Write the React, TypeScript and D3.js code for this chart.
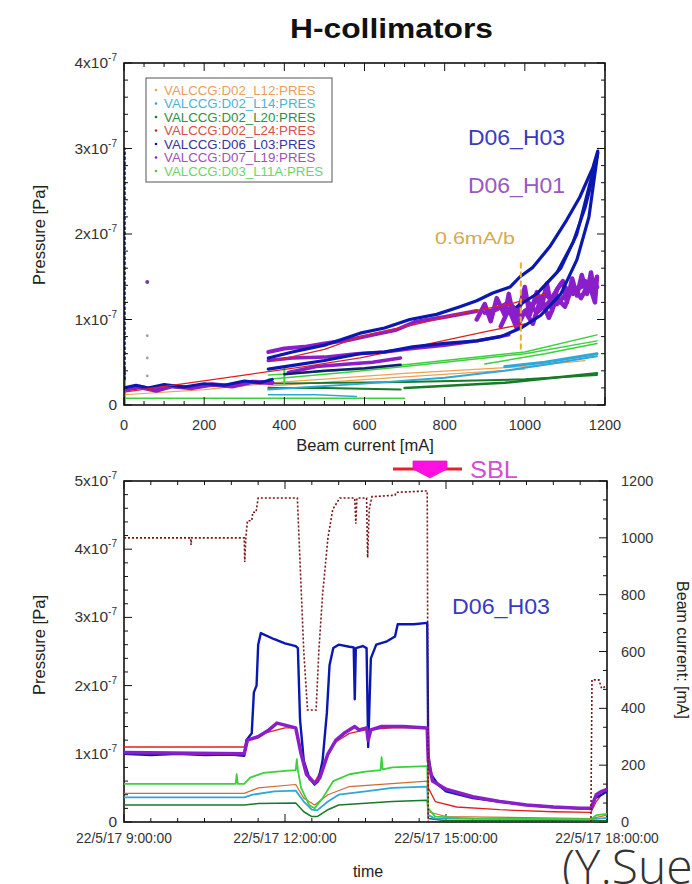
import React from 'react';
import * as d3 from 'd3';

type P = [number, number];

// ---------- top plot data (beam current mA, pressure in 1e-7 Pa) ----------
const legendNames = [
  'VALCCG:D02_L12:PRES',
  'VALCCG:D02_L14:PRES',
  'VALCCG:D02_L20:PRES',
  'VALCCG:D02_L24:PRES',
  'VALCCG:D06_L03:PRES',
  'VALCCG:D07_L19:PRES',
  'VALCCG:D03_L11A:PRES',
];
const legendTextColors = ['#e8a060', '#48b4d8', '#2f8f3f', '#d85050', '#34349a', '#a050b8', '#6cd46c'];
const seriesColors = ['#f0a050', '#2ea8d8', '#167a28', '#e02020', '#0a18b0', '#8a1ec8', '#3cd03c'];

const topBlueLow: P[] = [[0, 0.2], [30, 0.23], [60, 0.2], [100, 0.24], [150, 0.21], [200, 0.25], [250, 0.23], [300, 0.28], [340, 0.26], [370, 0.3]];
const topBlueUpper: P[] = [[360, 0.55], [420, 0.62], [500, 0.7], [589, 0.84], [650, 0.9], [713, 1.0], [780, 1.06], [838, 1.15], [880, 1.22], [920, 1.31], [963, 1.38], [988, 1.5], [1020, 1.61], [1062, 1.85], [1104, 2.16], [1137, 2.43], [1170, 2.78], [1182, 2.97]];
const topBlueLower: P[] = [[360, 0.42], [430, 0.47], [500, 0.52], [589, 0.6], [650, 0.62], [720, 0.68], [800, 0.72], [880, 0.75], [940, 0.8], [990, 0.9], [1040, 1.05], [1090, 1.3], [1130, 1.7], [1160, 2.2], [1182, 2.95]];
const topBlueLoop1: P[] = [[980, 1.15], [1030, 1.3], [1080, 1.55], [1120, 1.9], [1150, 2.3], [1172, 2.7], [1182, 2.95]];
const topBlueLoop2: P[] = [[1040, 1.35], [1090, 1.6], [1130, 2.0], [1160, 2.55], [1180, 2.9]];
const topBlueShort: P[] = [[400, 0.36], [500, 0.4], [600, 0.43], [690, 0.47]];
const topBlueAxis: P[] = [[2, 0.3], [2, 3.0]];

const topPurpleLow: P[] = [[0, 0.18], [40, 0.21], [80, 0.17], [120, 0.22], [170, 0.2], [220, 0.24], [270, 0.22], [320, 0.27], [370, 0.26]];
const topPurpleUpper: P[] = [[360, 0.62], [400, 0.66], [450, 0.68], [500, 0.72], [560, 0.76], [620, 0.82], [680, 0.88], [725, 0.97], [800, 1.03], [880, 1.1]];
const topPurpleLower: P[] = [[360, 0.52], [420, 0.55], [500, 0.56], [580, 0.6], [650, 0.62], [720, 0.66], [800, 0.7], [880, 0.75], [960, 0.82]];
const topPurpleShort: P[] = [[410, 0.38], [480, 0.45], [560, 0.48], [620, 0.5], [690, 0.55]];
const topPurpleCloud: P[] = [[880, 1.0], [900, 1.18], [915, 0.98], [930, 1.25], [950, 1.05], [960, 1.3], [975, 0.95], [990, 1.2], [1000, 1.38], [1012, 1.05], [1030, 1.32], [1042, 1.15], [1055, 1.42], [1068, 1.1], [1080, 1.35], [1095, 1.45], [1105, 1.2], [1118, 1.48], [1130, 1.28], [1142, 1.52], [1155, 1.3], [1165, 1.55], [1172, 1.35], [1180, 1.5], [1175, 1.2], [1160, 1.42], [1140, 1.25], [1120, 1.4], [1100, 1.15], [1080, 1.25], [1060, 1.02], [1040, 1.25], [1020, 0.95], [1000, 1.1], [980, 0.9], [960, 1.12], [940, 0.92]];
const topPurpleCloud2: P[] = [[900, 1.08], [930, 1.12], [960, 1.2], [990, 1.05], [1020, 1.18], [1050, 1.3], [1080, 1.18], [1110, 1.33], [1140, 1.38], [1170, 1.45], [1180, 1.38], [1150, 1.45], [1120, 1.3], [1090, 1.42], [1060, 1.2], [1030, 1.08], [1000, 1.25], [970, 1.05]];

const topRedA: P[] = [[0, 0.15], [150, 0.25], [300, 0.35], [450, 0.45], [589, 0.55], [725, 0.68], [905, 0.86], [1000, 0.95]];
const topRedB: P[] = [[376, 0.52], [500, 0.65], [589, 0.8], [725, 0.94], [850, 1.08], [963, 1.18], [1050, 1.3]];

const topOrangeA: P[] = [[0, 0.12], [200, 0.18], [400, 0.27], [700, 0.37], [1000, 0.45], [1150, 0.52]];
const topOrangeB: P[] = [[360, 0.22], [700, 0.33], [1000, 0.42]];

const topCyanA: P[] = [[360, 0.18], [600, 0.25], [800, 0.32], [950, 0.4], [1050, 0.47], [1180, 0.57]];
const topCyanB: P[] = [[360, 0.12], [480, 0.12], [580, 0.1]];
const topCyanC: P[] = [[950, 0.45], [1050, 0.5], [1180, 0.6]];

const topDkGreenA: P[] = [[360, 0.2], [500, 0.2], [690, 0.18]];
const topDkGreenB: P[] = [[360, 0.25], [700, 0.27], [1000, 0.3], [1180, 0.35]];
const topDkGreenC: P[] = [[700, 0.2], [950, 0.26], [1180, 0.37]];

const topGreenBase: P[] = [[0, 0.08], [300, 0.08], [600, 0.08], [700, 0.08]];
const topGreenA: P[] = [[360, 0.3], [550, 0.38], [700, 0.45], [900, 0.55], [1000, 0.6], [1180, 0.75]];
const topGreenB: P[] = [[360, 0.35], [600, 0.42], [800, 0.52], [1000, 0.62], [1180, 0.82]];
const topGreenC: P[] = [[900, 0.48], [1050, 0.6], [1180, 0.72]];
const topGreenAxis: P[] = [[1, 0], [1, 0.45]];
const topGreenSpike: P[] = [[400, 0.25], [400, 0.45]];

const topScatter: P[] = [[58, 1.44], [58, 0.81], [58, 0.55], [58, 0.34]];
const markerLine: P[] = [[990, 0.65], [990, 1.7]];

// ---------- bottom plot data (hours, pressure 1e-7 Pa / beam mA) ----------
const beam: P[] = [[9.0, 1000], [10.24, 1000], [10.25, 975], [10.26, 1000], [11.24, 1000], [11.25, 915], [11.27, 1000], [11.3, 1060], [11.38, 1060], [11.4, 1090], [11.46, 1090], [11.5, 1140], [12.23, 1140], [12.35, 600], [12.42, 394], [12.58, 394], [12.63, 600], [12.7, 800], [12.8, 1000], [12.89, 1100], [13.02, 1140], [13.3, 1140], [13.32, 1050], [13.34, 1140], [13.52, 1140], [13.54, 930], [13.57, 1100], [13.62, 1145], [14.05, 1150], [14.07, 1160], [14.65, 1165], [14.67, 0], [17.7, 0], [17.72, 500], [17.85, 500], [17.9, 470], [18, 480]];

const bBlue: P[] = [[9, 1.0], [9.5, 0.98], [10, 1.0], [10.5, 0.98], [11, 0.99], [11.24, 0.97], [11.28, 1.2], [11.38, 1.3], [11.42, 1.9], [11.47, 2.0], [11.5, 2.6], [11.55, 2.77], [11.8, 2.68], [12.0, 2.62], [12.2, 2.58], [12.24, 2.55], [12.28, 1.5], [12.35, 0.9], [12.45, 0.65], [12.55, 0.55], [12.62, 0.6], [12.7, 0.9], [12.78, 1.6], [12.83, 2.3], [12.9, 2.55], [13.0, 2.6], [13.2, 2.57], [13.28, 2.56], [13.3, 1.8], [13.32, 2.55], [13.45, 2.58], [13.52, 2.55], [13.55, 1.1], [13.6, 2.4], [13.7, 2.6], [13.9, 2.65], [14.05, 2.72], [14.1, 2.9], [14.4, 2.9], [14.65, 2.92], [14.67, 1.0], [14.72, 0.7], [14.85, 0.55], [15.0, 0.45], [15.5, 0.35], [16.0, 0.3], [16.5, 0.25], [17.0, 0.22], [17.5, 0.2], [17.7, 0.19], [17.78, 0.35], [17.9, 0.4], [18, 0.45]];
const bPurple: P[] = [[9, 1.02], [11.24, 1.0], [11.3, 1.2], [11.5, 1.25], [11.7, 1.35], [11.85, 1.45], [12.0, 1.42], [12.2, 1.38], [12.3, 1.0], [12.4, 0.7], [12.55, 0.57], [12.65, 0.65], [12.8, 1.0], [12.95, 1.2], [13.1, 1.3], [13.3, 1.4], [13.38, 1.35], [13.52, 1.38], [13.55, 1.2], [13.6, 1.35], [13.8, 1.4], [14.2, 1.4], [14.65, 1.38], [14.67, 0.9], [14.75, 0.6], [15.0, 0.48], [15.5, 0.37], [16.0, 0.3], [16.5, 0.25], [17.0, 0.22], [17.5, 0.2], [17.7, 0.2], [17.8, 0.4], [17.9, 0.45], [18, 0.48]];
const bRed: P[] = [[9, 1.1], [11.24, 1.1], [11.3, 1.2], [11.6, 1.3], [12.0, 1.38], [12.2, 1.38], [12.3, 1.0], [12.45, 0.62], [12.55, 0.58], [12.7, 0.8], [12.9, 1.15], [13.2, 1.3], [13.5, 1.35], [14.0, 1.38], [14.65, 1.38], [14.67, 0.5], [14.8, 0.3], [15.2, 0.22], [16, 0.18], [17, 0.15], [17.7, 0.14], [17.8, 0.3], [17.9, 0.4], [18, 0.5]];
const bGreen: P[] = [[9, 0.56], [11.08, 0.56], [11.1, 0.7], [11.12, 0.56], [11.24, 0.56], [11.35, 0.65], [11.6, 0.72], [12.0, 0.75], [12.2, 0.76], [12.22, 0.92], [12.24, 0.76], [12.3, 0.5], [12.45, 0.25], [12.55, 0.2], [12.7, 0.35], [12.9, 0.6], [13.2, 0.7], [13.5, 0.74], [13.78, 0.76], [13.8, 0.95], [13.82, 0.77], [14.0, 0.8], [14.65, 0.82], [14.67, 0.2], [14.8, 0.08], [15.5, 0.05], [17.7, 0.04], [17.8, 0.1], [18, 0.12]];
const bOrange: P[] = [[9, 0.42], [11.24, 0.42], [11.5, 0.5], [12.2, 0.55], [12.35, 0.35], [12.55, 0.25], [12.8, 0.4], [13.2, 0.52], [14.65, 0.6], [14.67, 0.15], [15, 0.08], [17.7, 0.05], [18, 0.1]];
const bCyan: P[] = [[9, 0.36], [11.24, 0.36], [11.4, 0.4], [11.8, 0.45], [12.2, 0.46], [12.35, 0.3], [12.5, 0.18], [12.6, 0.17], [12.8, 0.3], [13.0, 0.4], [13.5, 0.45], [14.0, 0.5], [14.65, 0.52], [14.67, 0.1], [14.8, 0.05], [17.7, 0.04], [18, 0.06]];
const bDkGreen: P[] = [[9, 0.25], [11.24, 0.25], [11.5, 0.27], [12.2, 0.28], [12.35, 0.15], [12.5, 0.08], [12.6, 0.08], [12.8, 0.18], [13.0, 0.25], [14, 0.3], [14.65, 0.32], [14.67, 0.05], [15, 0.02], [18, 0.02]];

const topXTicks = [0, 200, 400, 600, 800, 1000, 1200];
const topYTicks = [0, 1, 2, 3, 4];
const botYTicks = [0, 1, 2, 3, 4, 5];
const botRTicks = [0, 200, 400, 600, 800, 1000, 1200];
const botXTicks = [9, 12, 15, 18];
const botXLabels = ['22/5/17 9:00:00', '22/5/17 12:00:00', '22/5/17 15:00:00', '22/5/17 18:00:00'];

// ---------- scales ----------
const xT = d3.scaleLinear().domain([0, 1200]).range([124, 605]);
const yT = d3.scaleLinear().domain([0, 4]).range([405, 63]);
const xB = d3.scaleLinear().domain([9, 18]).range([124, 607]);
const yB = d3.scaleLinear().domain([0, 5]).range([822, 481]);
const yBR = d3.scaleLinear().domain([0, 1200]).range([822, 481]);

const lineT = d3.line<P>().x(d => xT(d[0])).y(d => yT(d[1]));
const lineB = d3.line<P>().x(d => xB(d[0])).y(d => yB(d[1]));
const lineBR = d3.line<P>().x(d => xB(d[0])).y(d => yBR(d[1]));

const FONT = 'Liberation Sans, Arial, sans-serif';

function range(a: number, b: number, s: number) {
  const r: number[] = [];
  for (let v = a; v <= b + 1e-9; v += s) r.push(+v.toFixed(6));
  return r;
}

function Frame({ x0, x1, y0, y1 }: { x0: number; x1: number; y0: number; y1: number }) {
  return <rect x={x0} y={y1} width={x1 - x0} height={y0 - y1} fill="none" stroke="#111" strokeWidth={1.6} />;
}

export default function App() {
  const tl: React.ReactNode[] = [];
  range(0, 1200, 50).forEach((v, i) => {
    const L = v % 200 === 0 ? 8 : 4;
    const x = xT(v);
    tl.push(<line key={'tx' + i} x1={x} x2={x} y1={405} y2={405 - L} stroke="#111" />);
    tl.push(<line key={'tx2' + i} x1={x} x2={x} y1={63} y2={63 + L} stroke="#111" />);
  });
  range(0, 4, 0.2).forEach((v, i) => {
    const L = Math.abs(v - Math.round(v)) < 1e-6 ? 8 : 4;
    const y = yT(v);
    tl.push(<line key={'ty' + i} x1={124} x2={124 + L} y1={y} y2={y} stroke="#111" />);
    tl.push(<line key={'ty2' + i} x1={605} x2={605 - L} y1={y} y2={y} stroke="#111" />);
  });
  range(9, 18, 0.5).forEach((v, i) => {
    const L = Math.abs((v - 9) % 3) < 1e-6 ? 8 : 4;
    const x = xB(v);
    tl.push(<line key={'bx' + i} x1={x} x2={x} y1={822} y2={822 - L} stroke="#111" />);
    tl.push(<line key={'bx2' + i} x1={x} x2={x} y1={481} y2={481 + L} stroke="#111" />);
  });
  range(0, 5, 0.2).forEach((v, i) => {
    const L = Math.abs(v - Math.round(v)) < 1e-6 ? 8 : 4;
    const y = yB(v);
    tl.push(<line key={'by' + i} x1={124} x2={124 + L} y1={y} y2={y} stroke="#111" />);
  });
  range(0, 1200, 200 / 3).forEach((v, i) => {
    const L = i % 3 === 0 ? 8 : 4;
    const y = yBR(v);
    tl.push(<line key={'br' + i} x1={607} x2={607 - L} y1={y} y2={y} stroke="#111" />);
  });

  const tp = (d: P[], c: string, w: number, extra: any = {}) => (
    <path d={lineT(d) || ''} fill="none" stroke={c} strokeWidth={w} strokeLinejoin="round" strokeLinecap="round" {...extra} />
  );
  const bp = (d: P[], c: string, w: number, extra: any = {}) => (
    <path d={lineB(d) || ''} fill="none" stroke={c} strokeWidth={w} strokeLinejoin="round" {...extra} />
  );

  const [cOr, cCy, cDg, cRd, cBl, cPu, cGr] = seriesColors;

  return (
    <svg width={692} height={884} style={{ position: 'absolute', left: 0, top: 0, background: '#fff' }} fontFamily={FONT}>
      <defs>
        <clipPath id="clipT"><rect x={124} y={63} width={481} height={342} /></clipPath>
        <clipPath id="clipB"><rect x={124} y={481} width={483} height={341} /></clipPath>
      </defs>
      <rect width={692} height={884} fill="#fff" />

      <text x={290} y={38} fontSize={27} fontWeight="bold" fill="#111" textLength={203} lengthAdjust="spacingAndGlyphs">H-collimators</text>

      {/* ===== top plot data ===== */}
      <g clipPath="url(#clipT)">
        {tp(topGreenBase, cGr, 1.5)}
        {tp(topCyanB, cCy, 1.5)}
        {tp(topOrangeA, cOr, 1.2)}
        {tp(topOrangeB, cOr, 1.2)}
        {tp(topDkGreenA, cDg, 2)}
        {tp(topDkGreenB, cDg, 2)}
        {tp(topDkGreenC, cDg, 2.5)}
        {tp(topCyanA, cCy, 2)}
        {tp(topCyanC, cCy, 3)}
        {tp(topGreenA, cGr, 1.5)}
        {tp(topGreenB, cGr, 1.5)}
        {tp(topGreenC, cGr, 1.5)}
        {tp(topGreenSpike, cGr, 2)}
        {tp(topGreenAxis, cGr, 3)}
        {tp(topBlueAxis, cBl, 2, { strokeDasharray: '2,3' })}
        {tp(topPurpleLow, cPu, 4.5)}
        {tp(topBlueLow, cBl, 3)}
        {tp(topPurpleShort, cPu, 3.5)}
        {tp(topBlueShort, '#102070', 2.5)}
        {tp(topPurpleLower, cPu, 3.5)}
        {tp(topPurpleUpper, cPu, 4)}
        {tp(topPurpleCloud, cPu, 4.5)}
        {tp(topPurpleCloud2, cPu, 4.5)}
        {tp(topRedA, cRd, 1.3)}
        {tp(topRedB, cRd, 1.3)}
        {tp(topBlueLower, cBl, 3.2)}
        {tp(topBlueUpper, cBl, 3.2)}
        {tp(topBlueLoop1, cBl, 3)}
        {tp(topBlueLoop2, cBl, 3)}
        {topScatter.map((d, i) => (
          <circle key={'sc' + i} cx={xT(d[0])} cy={yT(d[1])} r={i === 0 ? 2 : 1.4} fill={i === 0 ? '#7040a0' : '#a0a0b0'} />
        ))}
        {tp(markerLine, '#e8b020', 2, { strokeDasharray: '6,3', strokeLinecap: 'butt' })}
      </g>

      {/* legend */}
      <rect x={146} y={78} width={186} height={104} fill="#fff" stroke="#555" strokeWidth={1} />
      {legendNames.map((n, i) => (
        <g key={n}>
          <circle cx={156} cy={90 + i * 13.5} r={1.3} fill={seriesColors[i]} />
          <text x={164} y={94.5 + i * 13.5} fontSize={13.3} fill={legendTextColors[i]}>{n}</text>
        </g>
      ))}

      <text x={468} y={145} fontSize={22} fill="#3a3ac0" textLength={97} lengthAdjust="spacingAndGlyphs">D06_H03</text>
      <text x={468} y={193} fontSize={22} fill="#9a58c0" textLength={97} lengthAdjust="spacingAndGlyphs">D06_H01</text>
      <text x={435} y={244} fontSize={17} fill="#d4aa50" textLength={80} lengthAdjust="spacingAndGlyphs">0.6mA/b</text>

      <Frame x0={124} x1={605} y0={405} y1={63} />
      <Frame x0={124} x1={607} y0={822} y1={481} />
      {tl}

      {topYTicks.map(v => (
        <text key={'tyl' + v} x={117} y={yT(v) + 5} textAnchor="end" fontSize={15.5} fill="#333">
          {v === 0 ? '0' : <>{v}x10<tspan dy={-7} fontSize={10}>-7</tspan></>}
        </text>
      ))}
      {topXTicks.map(v => (
        <text key={'txl' + v} x={xT(v)} y={430} textAnchor="middle" fontSize={14.5} fill="#333">{v}</text>
      ))}
      <text x={365} y={451} textAnchor="middle" fontSize={16.5} fill="#222">Beam current [mA]</text>
      <text transform="translate(45,235) rotate(-90)" textAnchor="middle" fontSize={16.5} fill="#222">Pressure [Pa]</text>

      {/* ===== bottom plot data ===== */}
      <g clipPath="url(#clipB)">
        {bp(bDkGreen, cDg, 1.5)}
        {bp(bCyan, cCy, 1.8)}
        {bp(bOrange, '#d06a30', 1.2)}
        {bp(bGreen, cGr, 1.8)}
        {bp(bRed, cRd, 1.3)}
        {bp(bBlue, cBl, 2.4)}
        {bp(bPurple, cPu, 3.5)}
        <path d={lineBR(beam) || ''} fill="none" stroke="#7a1414" strokeWidth={1.6} strokeDasharray="2,2" />
      </g>

      <text x={452} y={614} fontSize={22} fill="#3a3ac0" textLength={98} lengthAdjust="spacingAndGlyphs">D06_H03</text>

      {/* SBL marker */}
      <line x1={393} x2={462} y1={469} y2={469} stroke="#e8202c" strokeWidth={3} />
      <path d="M413,461 L447,461 L447,469 L430,478 L413,469 Z" fill="#ff10e0" stroke="#e020a0" strokeWidth={0.8} />
      <text x={470} y={478} fontSize={23} fill="#d050d0" textLength={48} lengthAdjust="spacingAndGlyphs">SBL</text>

      {botYTicks.map(v => (
        <text key={'byl' + v} x={117} y={yB(v) + 5} textAnchor="end" fontSize={15.5} fill="#333">
          {v === 0 ? '0' : <>{v}x10<tspan dy={-7} fontSize={10}>-7</tspan></>}
        </text>
      ))}
      {botRTicks.map(v => (
        <text key={'brl' + v} x={621} y={yBR(v) + 5} fontSize={14.5} fill="#333">{v}</text>
      ))}
      {botXTicks.map((v, i) => (
        <text key={'bxl' + v} x={xB(v)} y={843} textAnchor="middle" fontSize={13.8} fill="#333">{botXLabels[i]}</text>
      ))}
      <text x={368} y={877} textAnchor="middle" fontSize={16} fill="#222">time</text>
      <text transform="translate(45,645) rotate(-90)" textAnchor="middle" fontSize={16.5} fill="#222">Pressure [Pa]</text>
      <text transform="translate(677,650) rotate(90)" textAnchor="middle" fontSize={16} fill="#222">Beam current: [mA]</text>

      <text x={562} y={884} fontSize={48} fontWeight={300} fill="#333" fontFamily="Open Sans, DejaVu Sans, sans-serif">(Y.Sue</text>
    </svg>
  );
}
